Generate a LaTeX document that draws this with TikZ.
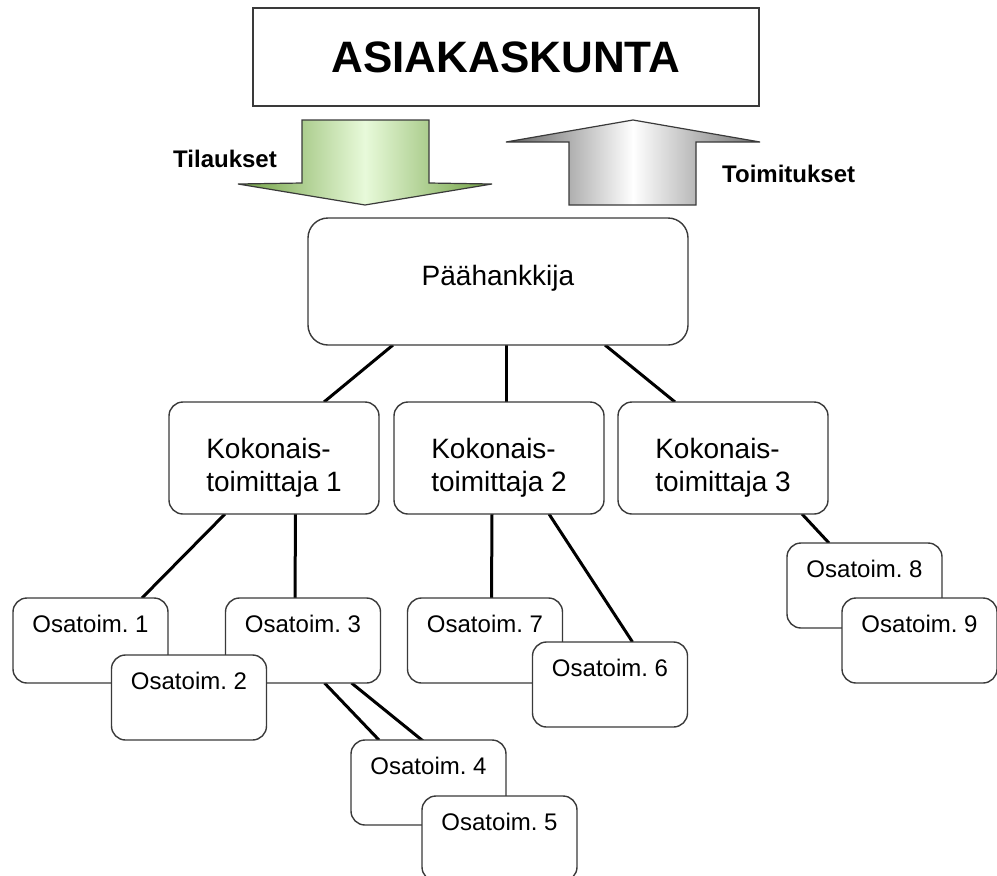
\documentclass[tikz,border=0pt]{standalone}
\usepackage{fontspec}
\setmainfont{Liberation Sans}
\frenchspacing
\pgfdeclarelayer{links}
\pgfsetlayers{links,main}
\definecolor{edge}{HTML}{3A3A3A}
\definecolor{greendark}{RGB}{112,160,66}
\definecolor{greenlight}{RGB}{232,250,218}
\definecolor{greydark}{RGB}{96,96,96}
\definecolor{greymid}{RGB}{112,112,112}
\begin{document}
\begin{tikzpicture}[x=1pt,y=-1pt,
  box/.style={draw=edge, line width=1.4pt, fill=white, rounded corners=14pt,
              outer sep=0pt, inner xsep=0pt, inner ysep=0pt},
  topbox/.style={draw=edge, line width=1.6pt, fill=white, outer sep=0pt,
                 minimum width=506pt, minimum height=98pt,
                 font=\fontsize{44}{50}\selectfont\bfseries},
  headbox/.style={box, rounded corners=20pt, anchor=north, minimum width=380pt,
                  text height=67pt, text depth=60pt,
                  font=\fontsize{28}{33.6}\selectfont},
  midbox/.style={box, minimum width=210pt, minimum height=112pt, align=left,
                 font=\fontsize{28}{33.6}\selectfont},
  subbox/.style={box, anchor=north, minimum width=155pt,
                 text height=34pt, text depth=51pt,
                 font=\fontsize{24}{28.8}\selectfont},
  flowlabel/.style={anchor=base west, inner sep=0pt,
                    font=\fontsize{24}{28.8}\selectfont\bfseries},
  link/.style={line width=3pt, black},
  bigarrow/.style={draw=edge, line width=1.2pt, line join=miter}]

\useasboundingbox (0,0) rectangle (997,876);

% customer group
\node[topbox] (asia) at (506,57) {ASIAKASKUNTA};

% orders going down, deliveries going up
\shadedraw[bigarrow, left color=greendark, right color=greendark, middle color=greenlight]
  (302,120) -- (429,120) -- (429,183) -- (492,184) -- (365,205)
  -- (238,184) -- (302,183) -- cycle;
\shadedraw[bigarrow, left color=greydark, right color=greymid, middle color=white]
  (633,120) -- (760,142) -- (696,142) -- (696,205) -- (569,205)
  -- (569,142) -- (506,142) -- cycle;
\node[flowlabel] (tilaukset) at (173,167) {Tilaukset};
\node[flowlabel] (toimitukset) at (722,182) {Toimitukset};

% main contractor
\node[headbox] (paa) at (498,218) {Päähankkija};

% system suppliers
\node[midbox] (koko1) at (274,458) {\rule{0pt}{40pt}Kokonais-\\toimittaja 1};
\node[midbox] (koko2) at (499,458) {\rule{0pt}{40pt}Kokonais-\\toimittaja 2};
\node[midbox] (koko3) at (723,458) {\rule{0pt}{40pt}Kokonais-\\toimittaja 3};

% subcontractors (later ones overlap earlier ones)
\node[subbox] (osa1) at (90.5,598) {Osatoim. 1};
\node[subbox] (osa3) at (303,598) {Osatoim. 3};
\node[subbox] (osa2) at (189,655) {Osatoim. 2};
\node[subbox] (osa4) at (428.5,740) {Osatoim. 4};
\node[subbox] (osa5) at (499.5,796) {Osatoim. 5};
\node[subbox] (osa7) at (485,598) {Osatoim. 7};
\node[subbox] (osa6) at (610,642) {Osatoim. 6};
\node[subbox] (osa8) at (864.5,543) {Osatoim. 8};
\node[subbox] (osa9) at (919.5,598) {Osatoim. 9};

% connectors, kept behind the boxes
\begin{pgfonlayer}{links}
  \draw[link] ([xshift=85pt]paa.south west) -- ([xshift=155pt]koko1.north west);
  \draw[link] ([xshift=198pt]paa.south west) -- ([xshift=112pt]koko2.north west);
  \draw[link] ([xshift=297pt]paa.south west) -- ([xshift=57pt]koko3.north west);
  \draw[link] ([xshift=56pt]koko1.south west) -- ([xshift=129pt]osa1.north west);
  \draw[link] ([xshift=126.5pt]koko1.south west) -- ([xshift=69.5pt]osa3.north west);
  \draw[link] ([xshift=98pt]koko2.south west) -- ([xshift=84pt]osa7.north west);
  \draw[link] ([xshift=155pt]koko2.south west) -- ([xshift=100pt]osa6.north west);
  \draw[link] ([xshift=184pt]koko3.south west) -- ([xshift=42pt]osa8.north west);
  \draw[link] ([xshift=99pt]osa3.south west) -- ([xshift=28pt]osa4.north west);
  \draw[link] ([xshift=126pt]osa3.south west) -- ([xshift=69pt]osa5.north west);
\end{pgfonlayer}
\end{tikzpicture}
\end{document}
